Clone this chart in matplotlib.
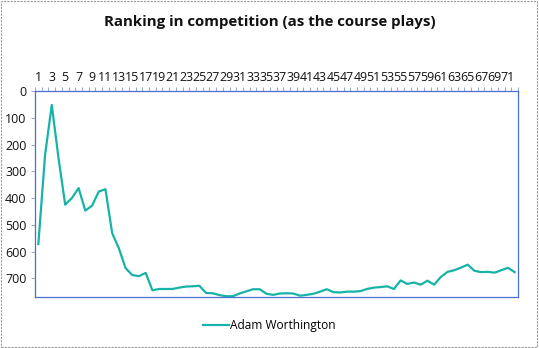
import matplotlib
matplotlib.use("Agg")
import matplotlib.pyplot as plt
from matplotlib.patches import Rectangle

holes = list(range(1, 73))
ranking = [572, 239, 52, 250, 425, 400, 363, 447, 429, 376, 367, 531,
           588, 662, 688, 692, 680, 745, 740, 740, 740, 735, 731, 730,
           728, 755, 756, 763, 767, 767, 757, 749, 741, 741, 758, 762,
           757, 756, 757, 765, 762, 758, 750, 741, 752, 753, 750, 750,
           748, 740, 735, 733, 730, 740, 708, 721, 716, 724, 709, 724,
           695, 676, 670, 660, 649, 672, 677, 676, 679, 670, 661, 677]
series_name = "Adam Worthington"
title = "Ranking in competition (as the course plays)"
y_ticks = [0, 100, 200, 300, 400, 500, 600, 700]

plt.rcParams['font.family'] = ['Open Sans', 'DejaVu Sans']

W, H = 539, 348
fig = plt.figure(figsize=(W / 100, H / 100), dpi=100)
ax = fig.add_axes([35 / W, 1 - 297 / H, (518 - 35) / W, (297 - 91) / H])

color = '#17B3A6'
ax.plot(holes, ranking, color=color, lw=1.6, label=series_name)

ax.set_xlim(0.5, len(holes) + 0.5)
ax.set_ylim(770, 0)
ax.xaxis.tick_top()
ax.set_xticks(holes[::2])
ax.set_xticklabels([str(h) for h in holes[::2]], fontsize=8.9, color='#111111')
ax.set_xticks([h + 0.5 for h in range(0, len(holes) + 1)], minor=True)
ax.tick_params(axis='x', which='major', length=0, pad=5)
ax.tick_params(axis='x', which='minor', length=3, color='#8899bb', width=0.6, top=True, bottom=False)
ax.set_yticks(y_ticks)
ax.set_yticklabels([str(v) for v in y_ticks], fontsize=9, color='#111111')
ax.tick_params(axis='y', length=3, color='#8899bb', width=0.6, pad=3)

for s in ax.spines.values():
    s.set_color('#4A6FD0')
    s.set_linewidth(0.9)

fig.text(0.5, 1 - 22 / H, title, ha='center', va='center', fontsize=10.8, fontweight='bold', color='#111111')

fig.legend(loc='center', bbox_to_anchor=(0.5, 1 - 326 / H), frameon=False,
           fontsize=8.6, handlelength=2.2, handletextpad=0.1)

fig.patches.append(Rectangle((0.002, 0.003), 0.995, 0.994, transform=fig.transFigure,
                             fill=False, edgecolor='#999999', linestyle=(0, (2, 1)), lw=0.8))

fig.savefig("out.png", dpi=100)
